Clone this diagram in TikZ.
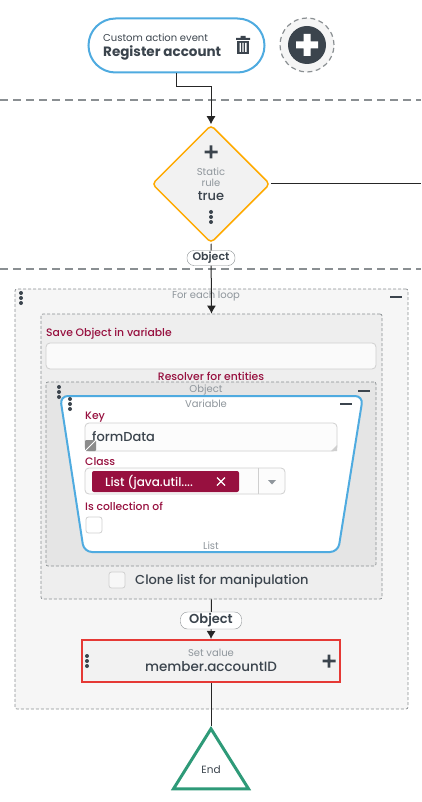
\documentclass[tikz,border=0pt]{standalone}
\usepackage{fontspec}
\setmainfont{Poppins}
\newfontfamily\midfont{Poppins Medium}
\newfontfamily\semifont{Poppins SemiBold}
\usetikzlibrary{shapes.geometric, arrows.meta}
\definecolor{slate}{HTML}{3B444D}
\definecolor{wine}{HTML}{97103F}
\definecolor{skyline}{HTML}{4FABE0}
\definecolor{dashgray}{HTML}{8A8F92}
\definecolor{hintgray}{HTML}{8F969C}
\definecolor{fieldline}{HTML}{CFCFCF}
\definecolor{ruleorange}{HTML}{FFAA00}
\definecolor{setred}{HTML}{E53935}
\definecolor{endgreen}{HTML}{2E9A78}
\tikzset{
    hint/.style={text=hintgray, font=\fontsize{10}{12}\selectfont, inner sep=0pt, yshift=-1.5pt},
    fieldlabel/.style={text=wine, font=\fontsize{10.8}{13}\selectfont\midfont, inner sep=0pt, yshift=-1pt},
    body/.style={text=slate, font=\fontsize{13}{15}\selectfont\midfont, inner sep=0pt, yshift=-1pt},
    frame/.style={draw=dashgray, dash pattern=on 3pt off 2pt, line width=0.7pt, rounded corners=2pt},
    field/.style={draw=fieldline, fill=#1, line width=0.8pt, rounded corners=4pt},
    field/.default=white,
    tickbox/.style={draw=fieldline, fill=#1, line width=0.8pt, rounded corners=2.5pt, minimum size=16pt, inner sep=0pt},
    link/.style={draw=black!85, line width=1pt},
    arrowlink/.style={link, -{Latex[length=8pt,width=9pt]}},
    tag/.style={draw=dashgray, fill=white, rounded corners=7pt, text=slate, font=\fontsize{11}{13}\selectfont\semifont, inner sep=0pt},
    divider/.style={draw=dashgray, dash pattern=on 8pt off 5pt, line width=1.2pt},
    kebab/.pic={
        \fill[slate] (0,-5) circle (2pt) (0,0) circle (2pt) (0,5) circle (2pt);
    },
    minusbar/.pic={
        \fill[slate] (-6,-1.2) rectangle (6,1.2);
    },
    plussign/.pic={
        \fill[slate] (-6.5,-1.3) rectangle (6.5,1.3) (-1.3,-6.5) rectangle (1.3,6.5);
    },
}
\begin{document}
\begin{tikzpicture}[x=1pt, y=-1pt]
    \useasboundingbox (0,0) rectangle (421,802);

    % Lane dividers
    \coordinate (laneAL) at (0,100);
    \coordinate (laneAR) at (421,100);
    \coordinate (laneBL) at (0,269);
    \coordinate (laneBR) at (421,269);
    \draw[divider] (laneAL) -- (laneAR);
    \draw[divider] (laneBL) -- (laneBR);

    % Event
    \node[draw=skyline, fill=white, line width=2pt, rounded corners=27pt, minimum width=176pt, minimum height=54pt] (event) at (176.5,45.5) {};
    \node[anchor=west, text=slate, font=\fontsize{10}{12}\selectfont, inner sep=0pt] (eventKind) at (103,38) {Custom action event};
    \node[anchor=west, text=slate, font=\fontsize{13.5}{15}\selectfont\bfseries, inner sep=0pt] (eventName) at (103,53) {Register account};
    \fill[slate] (236,38) rectangle (250,40) (240.5,36) rectangle (245.5,38);
    \fill[slate] (237,41) rectangle (249,54);
    \fill[white] (239.5,43) rectangle (240.8,52) (242.4,43) rectangle (243.7,52) (245.2,43) rectangle (246.5,52);

    % Add button
    \node[circle, draw=dashgray, fill=black!4, dash pattern=on 5pt off 3.5pt, line width=1.2pt, minimum size=54pt] (addRing) at (307,45) {};
    \node[circle, fill=slate, minimum size=38pt] (addDisc) at (307,45) {};
    \fill[white] (296,41.5) rectangle (318,48.5) (303.5,34) rectangle (310.5,56);

    % Static rule
    \node[diamond, draw=ruleorange, fill=black!5, line width=1.5pt, rounded corners=4pt, minimum size=118pt, inner sep=0pt] (rule) at (211,184) {};
    \pic at (211,152) {plussign};
    \node[hint] (ruleKindA) at (211,170) {Static};
    \node[hint] (ruleKindB) at (211,181) {rule};
    \node[body] (ruleValue) at (211,195) {true};
    \pic at (211,217) {kebab};
    \coordinate (ruleExit) at (421,184);
    \draw[link] (rule.east) -- (ruleExit);

    % For each loop
    \node[frame, fill=black!3.5, minimum width=393pt, minimum height=420pt] (loop) at (211.5,499) {};
    \node[hint] (loopTitle) at (206,295) {For each loop};
    \pic at (21,298) {kebab};
    \pic at (396,297) {minusbar};

    % Save object
    \node[frame, fill=black!6.5, minimum width=341pt, minimum height=285pt] (saveBox) at (211.5,456.5) {};
    \node[fieldlabel, anchor=west] (saveLabel) at (46,333) {Save Object in variable};
    \node[field=black!2, minimum width=330pt, minimum height=26pt] (saveField) at (211,356) {};
    \node[fieldlabel] (resolverLabel) at (211,375) {Resolver for entities};

    % Object resolver
    \node[frame, fill=black!10, minimum width=330pt, minimum height=184pt] (resolver) at (211,474) {};
    \node[hint] (resolverTitle) at (206,388) {Object};
    \pic at (59,392) {kebab};
    \pic at (364,391) {minusbar};

    % Variable card
    \draw[skyline, fill=white, line width=2pt, rounded corners=8pt] (60,396) -- (363,396) -- (338,552) -- (84,552) -- cycle;
    \node[hint] (cardTitle) at (206,402) {Variable};
    \pic at (70,404) {kebab};
    \pic at (346,404) {minusbar};
    \node[fieldlabel, anchor=west] (keyLabel) at (85,416) {Key};
    \node[field=black!1, minimum width=252pt, minimum height=28pt] (keyField) at (211,437) {};
    \fill[fieldline] (337,445) -- (337,451) -- (331,451) -- cycle;
    \node[body, anchor=west] (keyValue) at (92,436) {formData};
    \node[fill=black!45, rounded corners=1pt, minimum size=11pt, inner sep=0pt] (resizeMark) at (90.5,445.5) {};
    \draw[white, line width=0.8pt] (resizeMark.south west) -- (resizeMark.north east);
    \node[fieldlabel, anchor=west] (classLabel) at (85,461) {Class};
    \node[field=black!1, minimum width=200pt, minimum height=26pt] (classField) at (185,481) {};
    \draw[fieldline, line width=0.8pt] (258.5,468) -- (258.5,494);
    \node[fill=wine, rounded corners=2pt, minimum width=147pt, minimum height=21pt] (classChip) at (165.5,481.5) {};
    \node[anchor=west, text=white, font=\fontsize{12}{14}\selectfont\midfont, inner sep=0pt] (classValue) at (105,482) {List (java.util....};
    \draw[white, line width=1.4pt] (217,477.5) -- (225,485.5) (217,485.5) -- (225,477.5);
    \fill[hintgray] (268,480) -- (276,480) -- (272,484.5) -- cycle;
    \node[fieldlabel, anchor=west] (collectionLabel) at (85,505) {Is collection of};
    \node[tickbox=white] (collectionBox) at (94,525) {};
    \node[hint] (cardFoot) at (211,544.5) {List};

    % Clone option
    \node[tickbox=black!3] (cloneBox) at (117,580) {};
    \node[anchor=west, text=slate, font=\fontsize{13}{15}\selectfont\midfont, inner sep=0pt] (cloneLabel) at (135,581) {Clone list for manipulation};

    % Set value
    \node[draw=setred, fill=black!5, line width=2pt, minimum width=258pt, minimum height=42pt] (setValue) at (211,661) {};
    \node[hint] (setKind) at (211,651) {Set value};
    \node[body, font=\fontsize{13.5}{15}\selectfont\midfont] (setName) at (211,666) {member.accountID};
    \pic at (87,661) {kebab};
    \pic at (329,661) {plussign};

    % End
    \node[isosceles triangle, isosceles triangle apex angle=64, shape border rotate=90, draw=endgreen, fill=white, line width=3pt, minimum height=60pt, inner sep=0pt] (finish) at (211,768) {};
    \node[text=slate, font=\fontsize{10.5}{12}\selectfont, inner sep=0pt] (finishLabel) at (211,770) {End};

    % Connectors
    \draw[arrowlink] (event.south) -- ++(0,13) -| (rule.north);
    \draw[arrowlink] (rule.south) -- (saveBox.north);
    \node[tag, minimum width=48pt, minimum height=15pt] (objectTagA) at (211,258) {Object};
    \draw[arrowlink] (saveBox.south) -- (setValue.north);
    \node[tag, minimum width=61pt, minimum height=17pt, font=\fontsize{13}{15}\selectfont\semifont] (objectTagB) at (211,620.5) {Object};
    \draw[link] (setValue.south) -- (finish.north);
\end{tikzpicture}
\end{document}
